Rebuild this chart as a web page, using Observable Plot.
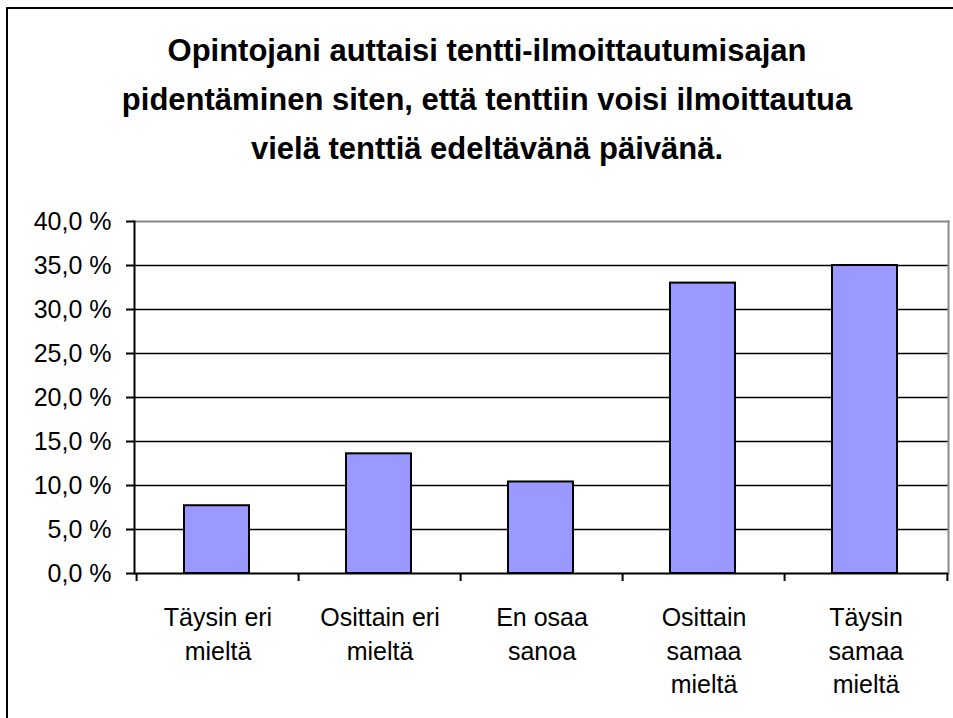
<!DOCTYPE html>
<html>
<head>
<meta charset="utf-8">
<script src="https://cdn.jsdelivr.net/npm/d3@7"></script>
<script src="https://cdn.jsdelivr.net/npm/@observablehq/plot@0.6"></script>
<style>
  html, body { margin: 0; padding: 0; background: #fff; overflow: hidden; }
  body { width: 953px; height: 718px; position: relative; font-family: "Liberation Sans", Arial, sans-serif; }
  #frame { position: absolute; left: 6px; top: 7px; width: 1000px; height: 800px; border-left: 2.5px solid #000; border-top: 2.5px solid #000; box-sizing: border-box; }
  #title { position: absolute; left: 87px; width: 800px; top: 26px; text-align: center; font-weight: bold; font-size: 31px; line-height: 49px; color: #000; }
  #chart { position: absolute; left: 0; top: 0; }
</style>
</head>
<body>
<div id="frame"></div>
<div id="chart"></div>
<div id="title">Opintojani auttaisi tentti-ilmoittautumisajan<br>pidentäminen siten, että tenttiin voisi ilmoittautua<br>vielä tenttiä edeltävänä päivänä.</div>
<script>
const categories = ["Täysin eri mieltä", "Osittain eri mieltä", "En osaa sanoa", "Osittain samaa mieltä", "Täysin samaa mieltä"];
const labels = ["Täysin eri\nmieltä", "Osittain eri\nmieltä", "En osaa\nsanoa", "Osittain\nsamaa\nmieltä", "Täysin\nsamaa\nmieltä"];
const values = [7.7, 13.6, 10.4, 33.0, 35.0];
const yTicks = [0, 5, 10, 15, 20, 25, 30, 35, 40];

const data = categories.map((c, i) => ({cat: c, label: labels[i], value: values[i]}));

const W = 953, H = 718, mL = 134, mR = 5, mT = 221, mB = 145;
const step = (W - mL - mR) / categories.length;

const chart = Plot.plot({
  width: W,
  height: H,
  marginLeft: mL,
  marginRight: mR,
  marginTop: mT,
  marginBottom: mB,
  style: {fontFamily: '"Liberation Sans", Arial, sans-serif', background: "transparent", overflow: "visible"},
  x: {domain: categories, paddingInner: 0.6, paddingOuter: 0.3, axis: null},
  y: {domain: [0, 40], axis: null},
  marks: [
    Plot.ruleY(yTicks.filter(d => d > 0 && d < 40), {stroke: "#000", strokeWidth: 1.6}),
    Plot.frame({anchor: "top", stroke: "#8a8a8a", strokeWidth: 2}),
    Plot.frame({anchor: "right", stroke: "#8a8a8a", strokeWidth: 2}),
    Plot.barY(data, {x: "cat", y: "value", fill: "#9999ff", stroke: "#000", strokeWidth: 2, dx: -1}),
    Plot.ruleY([0], {stroke: "#000", strokeWidth: 2}),
    Plot.frame({anchor: "left", stroke: "#000", strokeWidth: 2}),
    Plot.axisY({
      ticks: yTicks,
      tickSize: 8,
      tickPadding: 15,
      tickFormat: d => d.toFixed(1).replace(".", ",") + " %",
      fontSize: 25,
      stroke: "#000",
      strokeWidth: 2,
      color: "#000",
      label: null
    }),
    Plot.ruleX(categories, {x: d => d, y1: 0, y2: 0, insetBottom: -8, dx: -step / 2, stroke: "#000", strokeWidth: 2}),
    Plot.ruleX([categories[categories.length - 1]], {x: d => d, y1: 0, y2: 0, insetBottom: -8, dx: step / 2, stroke: "#000", strokeWidth: 2}),
    Plot.text(data, {x: "cat", y: 0, text: "label", lineAnchor: "top", dy: 29, fontSize: 25, lineHeight: 1.34, fill: "#000"})
  ]
});
document.getElementById("chart").appendChild(chart);
</script>
</body>
</html>
